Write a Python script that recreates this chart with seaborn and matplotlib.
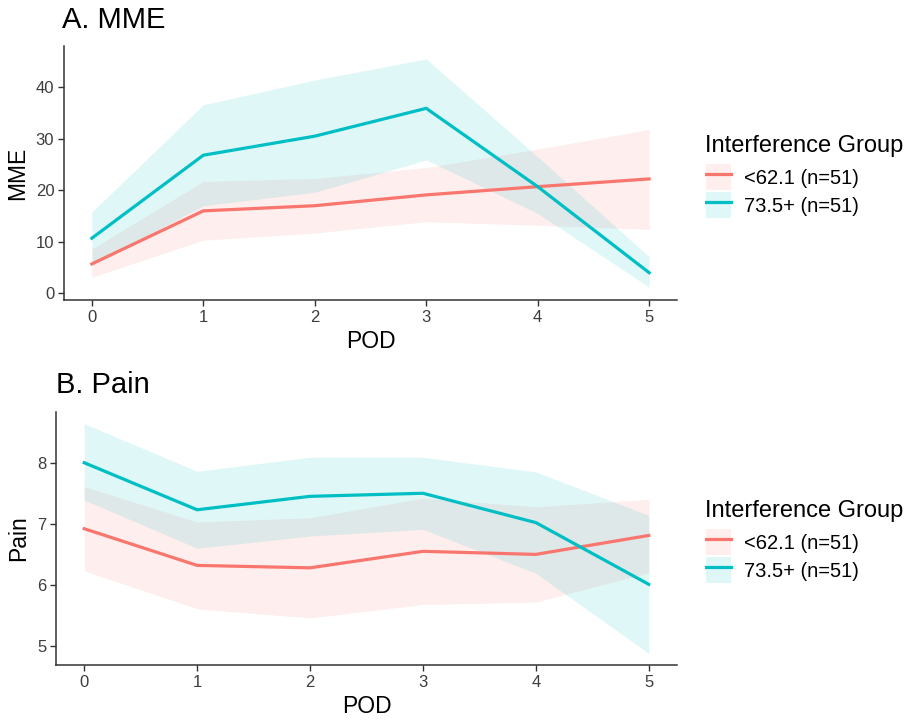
import matplotlib
matplotlib.use("Agg")
import matplotlib.pyplot as plt
import seaborn as sns
import pandas as pd
from matplotlib.patches import Patch
from matplotlib.lines import Line2D
from matplotlib.legend_handler import HandlerTuple

# ---- data ----
pod = [0, 1, 2, 3, 4, 5]
groups = ["<62.1 (n=51)", "73.5+ (n=51)"]
legend_title = "Interference Group"

mme_low = [5.7, 16.0, 17.0, 19.1, 20.7, 22.2]
mme_low_lo = [3.1, 10.3, 11.7, 13.9, 13.2, 12.4]
mme_low_hi = [8.6, 21.7, 22.3, 24.4, 28.0, 31.8]
mme_high = [10.7, 26.8, 30.5, 35.9, 20.7, 4.0]
mme_high_lo = [5.5, 17.0, 19.6, 25.9, 15.5, 1.2]
mme_high_hi = [15.8, 36.6, 41.4, 45.5, 26.5, 7.1]

pain_low = [6.92, 6.32, 6.28, 6.55, 6.50, 6.81]
pain_low_lo = [6.23, 5.61, 5.46, 5.68, 5.72, 6.20]
pain_low_hi = [7.61, 7.03, 7.10, 7.42, 7.28, 7.40]
pain_high = [8.00, 7.23, 7.45, 7.50, 7.02, 6.01]
pain_high_lo = [7.39, 6.60, 6.80, 6.91, 6.19, 4.88]
pain_high_hi = [8.64, 7.86, 8.09, 8.09, 7.85, 7.14]

colors = ["#F8766D", "#00BFC4"]
FONT = "Liberation Sans"
plt.rcParams["font.family"] = [FONT, "DejaVu Sans"]

fig = plt.figure(figsize=(9.2, 7.24), dpi=100)
W, H = 920, 724

def px_axes(l, t, r, b):
    return fig.add_axes([l / W, 1 - b / H, (r - l) / W, (b - t) / H])

ax1 = px_axes(64, 46, 677, 300)
ax2 = px_axes(56, 412, 677, 665)

def make_df(a, b):
    return pd.DataFrame({
        "POD": pod * 2,
        "value": list(a) + list(b),
        "group": [groups[0]] * len(pod) + [groups[1]] * len(pod),
    })

def panel(ax, lo_vals, hi_vals, bands, ylabel, title, ylim, yticks, title_xy):
    df = make_df(lo_vals, hi_vals)
    for (blo, bhi), c in zip(bands, colors):
        ax.fill_between(pod, blo, bhi, color=c, alpha=0.12, linewidth=0)
    sns.lineplot(data=df, x="POD", y="value", hue="group", palette=colors,
                 linewidth=2.3, ax=ax, legend=False)
    ax.set_xlim(-0.25, 5.25)
    ax.set_ylim(*ylim)
    ax.set_xticks(pod)
    ax.set_yticks(yticks)
    for s in ["top", "right"]:
        ax.spines[s].set_visible(False)
    for s in ["left", "bottom"]:
        ax.spines[s].set_color("#333333")
        ax.spines[s].set_linewidth(1.1)
    ax.tick_params(axis="both", length=4, width=1, color="#333333",
                   labelsize=12, labelcolor="#3D3D3D", pad=3)
    ax.set_xlabel("POD", fontsize=16.5, color="black", labelpad=4)
    ax.set_ylabel(ylabel, fontsize=16.5, color="black", labelpad=5)
    ax.set_facecolor("white")
    fig.text(title_xy[0] / W, 1 - title_xy[1] / H, title, fontsize=21,
             ha="left", va="top")
    handles = [
        (Patch(facecolor=c, alpha=0.12, edgecolor="none"),
         Line2D([], [], color=c, linewidth=2.3))
        for c in colors
    ]
    return handles

h1 = panel(ax1, mme_low, mme_high,
           [(mme_low_lo, mme_low_hi), (mme_high_lo, mme_high_hi)],
           "MME", "A. MME", (-1.3, 48.0), [0, 10, 20, 30, 40], (62, 6))
h2 = panel(ax2, pain_low, pain_high,
           [(pain_low_lo, pain_low_hi), (pain_high_lo, pain_high_hi)],
           "Pain", "B. Pain", (4.69, 8.83), [5, 6, 7, 8], (56, 371))

def add_legend(handles, title_baseline_px, keys_top_px):
    fig.text(705 / W, 1 - title_baseline_px / H, legend_title, fontsize=17,
             ha="left", va="baseline", color="black")
    leg = fig.legend(handles, groups,
                     handler_map={tuple: HandlerTuple(ndivide=1, pad=0)},
                     loc="upper left", bbox_to_anchor=(706 / W, 1 - keys_top_px / H),
                     frameon=False,
                     fontsize=14.5, handlelength=1.25,
                     handleheight=1.62, handletextpad=0.65, labelspacing=0.1,
                     borderaxespad=0, borderpad=0)
    return leg

add_legend(h1, 152, 164)
add_legend(h2, 517, 529)

fig.savefig("out.png", dpi=100, facecolor="white")
